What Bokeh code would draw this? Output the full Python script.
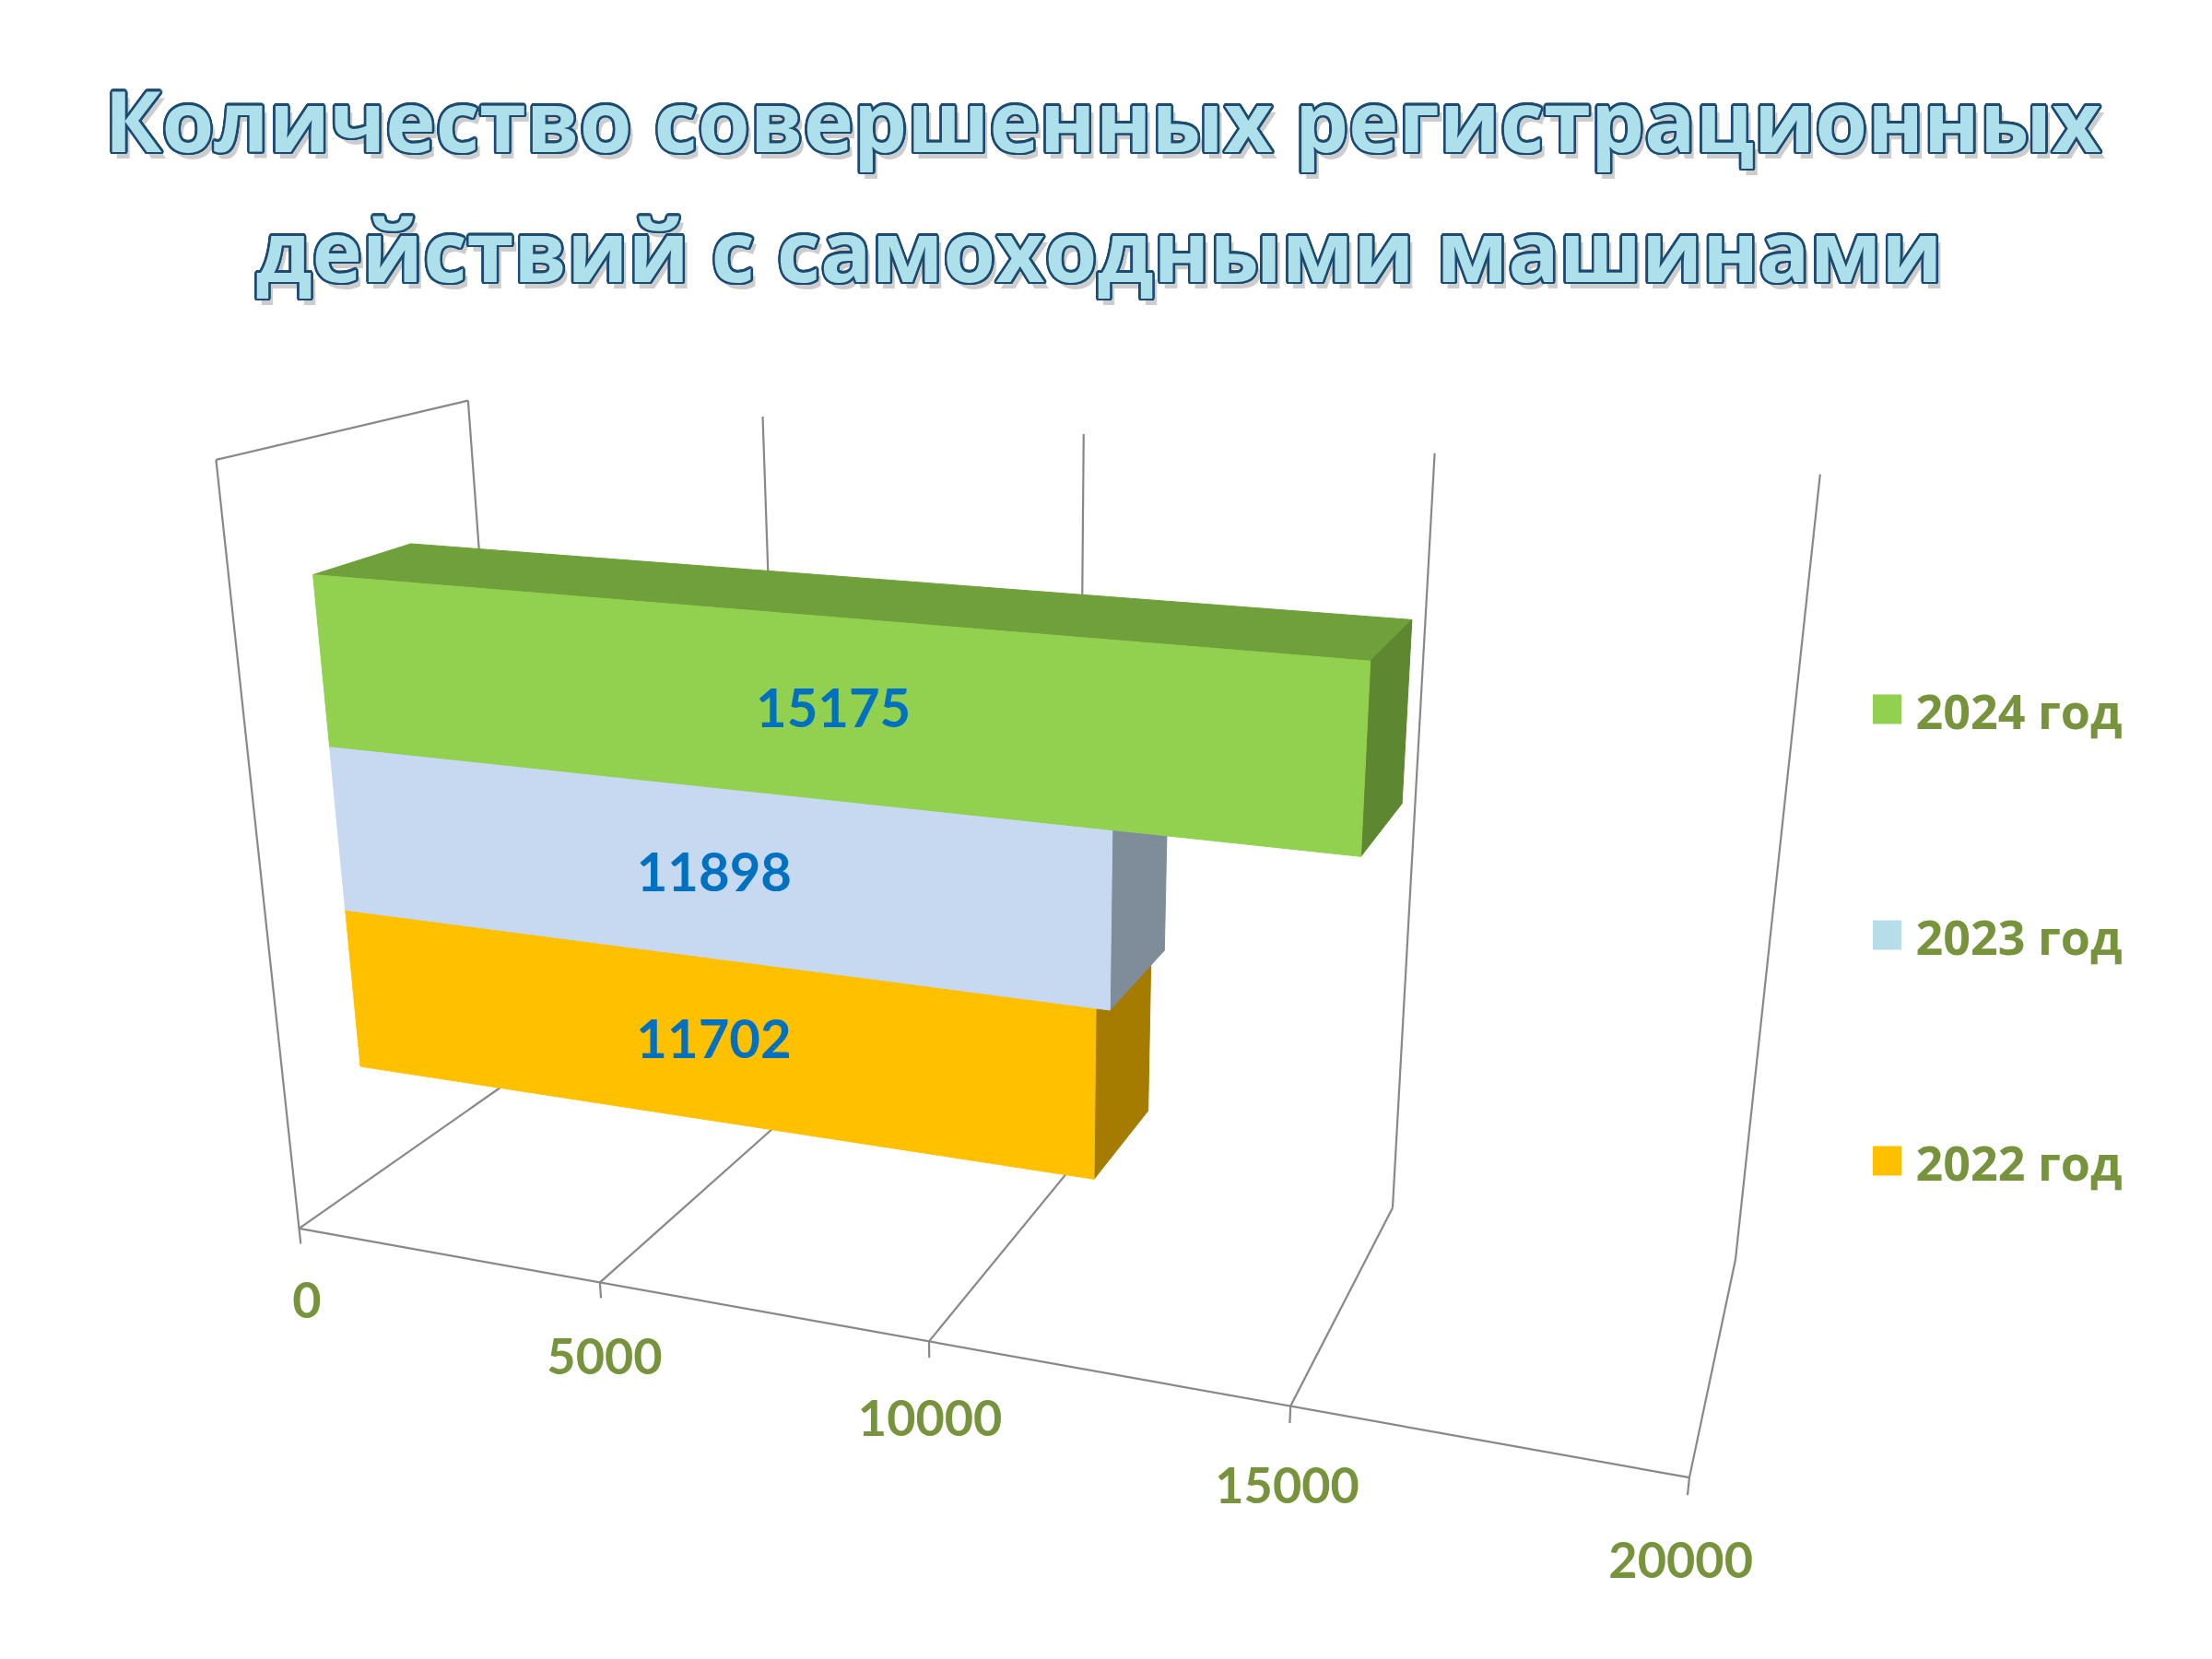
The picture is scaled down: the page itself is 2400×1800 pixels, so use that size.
import numpy as np
from bokeh.plotting import figure
from bokeh.models import Range1d, ColumnDataSource
from bokeh.core.properties import value
from bokeh.embed import file_html
from bokeh.resources import INLINE

# ---------------- data ----------------
title_lines = ["Количество совершенных регистрационных",
               "действий с самоходными машинами"]
series = ["2022 год", "2023 год", "2024 год"]
values = [11702, 11898, 15175]
front_colors = ["#FFC000", "#C6D9F1", "#92D050"]
top_colors = ["#C89600", "#9FB2C8", "#70A03C"]
side_colors = ["#A67C00", "#7F8C99", "#5D8731"]
legend_colors = ["#FFC000", "#B7DEE8", "#92D050"]
ticks = [0, 5000, 10000, 15000, 20000]
tick_labels = ["0", "5000", "10000", "15000", "20000"]
vmax = 20000

# ---------------- camera (layout anchors: world -> page pixels) ----------------
anchors_world = [(0, 1, 0), (0, 1, 1), (0, 0, 0), (0.25, 0, 0), (0.5, 0, 0),
                 (0.75, 0, 0), (1, 0, 0), (0.25, 1, 1), (0.5, 1, 1), (0.75, 1, 1),
                 (1, 1, 1), (0.75, 0, 1), (1, 0, 1)]
anchors_px = [(233, 499), (506, 435), (324, 1333), (650, 1393), (1003, 1457),
              (1400, 1526), (1832, 1602), (827, 452), (1174, 471), (1554, 493),
              (1974, 516), (1509, 1311), (1882, 1367)]
OX, OY = 9, 7

W = np.array(anchors_world, float)
U = np.array(anchors_px, float)
mu = U.mean(0)
sc = np.sqrt(2) / np.mean(np.linalg.norm(U - mu, axis=1))
T = np.array([[sc, 0, -sc * mu[0]], [0, sc, -sc * mu[1]], [0, 0, 1]])
Un = (U - mu) * sc
rows = []
for (X, Y, Z), (u, v) in zip(W, Un):
    rows.append([X, Y, Z, 1, 0, 0, 0, 0, -u * X, -u * Y, -u * Z, -u])
    rows.append([0, 0, 0, 0, X, Y, Z, 1, -v * X, -v * Y, -v * Z, -v])
_, _, Vt = np.linalg.svd(np.array(rows))
P = np.linalg.inv(T) @ Vt[-1].reshape(3, 4)


def proj(x, y, z):
    h = P @ np.array([x, y, z, 1.0])
    return float(h[0] / h[2]) + OX, float(h[1] / h[2]) + OY


def poly(pts):
    pp = [proj(*q) for q in pts]
    return [a for a, _ in pp], [b for _, b in pp]


BL = 0.35  # browser offset of the alphabetic baseline, in em

# ---------------- figure ----------------
p = figure(width=2384, height=1784, output_backend="svg", toolbar_location=None,
           x_range=Range1d(8, 2392), y_range=Range1d(1792, 8), min_border=0)
p.axis.visible = False
p.grid.visible = False
p.outline_line_color = None
p.background_fill_color = "white"
p.border_fill_color = "white"

# frame lines
segs = [((0, 0, 0), (0, 1, 0)), ((0, 1, 0), (0, 1, 1)), ((0, 1, 1), (0, 0, 1)),
        ((0, 0, 0), (1, 0, 0))]
for t in ticks:
    x = t / vmax
    segs.append(((x, 0, 0), (x, 0, 1)))
    segs.append(((x, 0, 0), (x, -0.022, 0)))
    if t > 0:
        segs.append(((x, 0, 1), (x, 1, 1)))
lx, ly = [], []
for a, b in segs:
    xs, ys = poly([a, b])
    lx.append(xs)
    ly.append(ys)
p.multi_line(lx, ly, line_color="#888888", line_width=2.2)

# bars
ZF, ZB = 0.3, 0.7
YB, BH = 0.165, 0.2225
pxs, pys, pcol = [], [], []
lab_x, lab_y = [], []
LS = 58
for i, val in enumerate(values):
    x1 = val / vmax
    y0 = YB + i * BH
    y1 = y0 + BH
    front = [(0, y0, ZF), (x1, y0, ZF), (x1, y1, ZF), (0, y1, ZF)]
    faces = [
        ([(0, y1, ZF), (x1, y1, ZF), (x1, y1, ZB), (0, y1, ZB)], top_colors[i]),
        ([(x1, y0, ZF), (x1, y1, ZF), (x1, y1, ZB), (x1, y0, ZB)], side_colors[i]),
        (front, front_colors[i]),
    ]
    for pts, c in faces:
        xs, ys = poly(pts)
        pxs.append(xs)
        pys.append(ys)
        pcol.append(c)
    fx, fy = poly(front)
    cx, cy = sum(fx) / 4 - 11, sum(fy) / 4 - 3
    lab_x.append(cx)
    lab_y.append(cy + 0.36 * LS - BL * LS)
p.patches(xs="xs", ys="ys", fill_color="c", line_color="c", line_width=1,
          source=ColumnDataSource(dict(xs=pxs, ys=pys, c=pcol)))

p.text(x=lab_x, y=lab_y, text=[str(v) for v in values], text_color="#0070C0",
       text_font=value("Lato"), text_font_style="bold", text_font_size=f"{LS}px",
       text_align="center", text_baseline="alphabetic")

# axis labels
AS = 54
ax_x, ax_y = [], []
for t in ticks:
    x, y = proj(t / vmax, -0.104, 0)
    ax_x.append(x)
    ax_y.append(y + 0.36 * AS - BL * AS)
p.text(x=ax_x, y=ax_y, text=tick_labels, text_color="#77933C",
       text_font=value("Lato"), text_font_style="bold", text_font_size=f"{AS}px",
       text_align="center", text_baseline="alphabetic")

# legend
GS = 52
leg_y = [1267, 1022, 777]
p.rect(x=[2055] * 3, y=leg_y, width=31, height=32, fill_color=legend_colors,
       line_color=None)
p.text(x=[2086] * 3, y=[yy + 19 - BL * GS for yy in leg_y], text=series,
       text_color="#77933C",
       text_font=value("Open Sans"), text_font_style="bold", text_font_size=f"{GS}px",
       text_align="left", text_baseline="alphabetic")

# title: shadow, dark outline, light fill
TS = 92
tx = [1204, 1200]
ty = [169 - BL * TS, 310 - BL * TS]
tkw = dict(text_font=value("Open Sans"), text_font_style="bold",
           text_font_size=f"{TS}px", text_align="center", text_baseline="alphabetic")
p.text(x=[x + 5 for x in tx], y=[y + 7 for y in ty], text=title_lines,
       text_color="#707070", text_alpha=0.35, **tkw)
r = 2.6
for ang in np.linspace(0, 2 * np.pi, 16, endpoint=False):
    dx, dy = r * np.cos(ang), r * np.sin(ang)
    p.text(x=[x + dx for x in tx], y=[y + dy for y in ty], text=title_lines,
           text_color="#1D4B70", **tkw)
p.text(x=tx, y=ty, text=title_lines, text_color="#AEE0EC", **tkw)

open("out.html", "w").write(file_html(p, INLINE))
